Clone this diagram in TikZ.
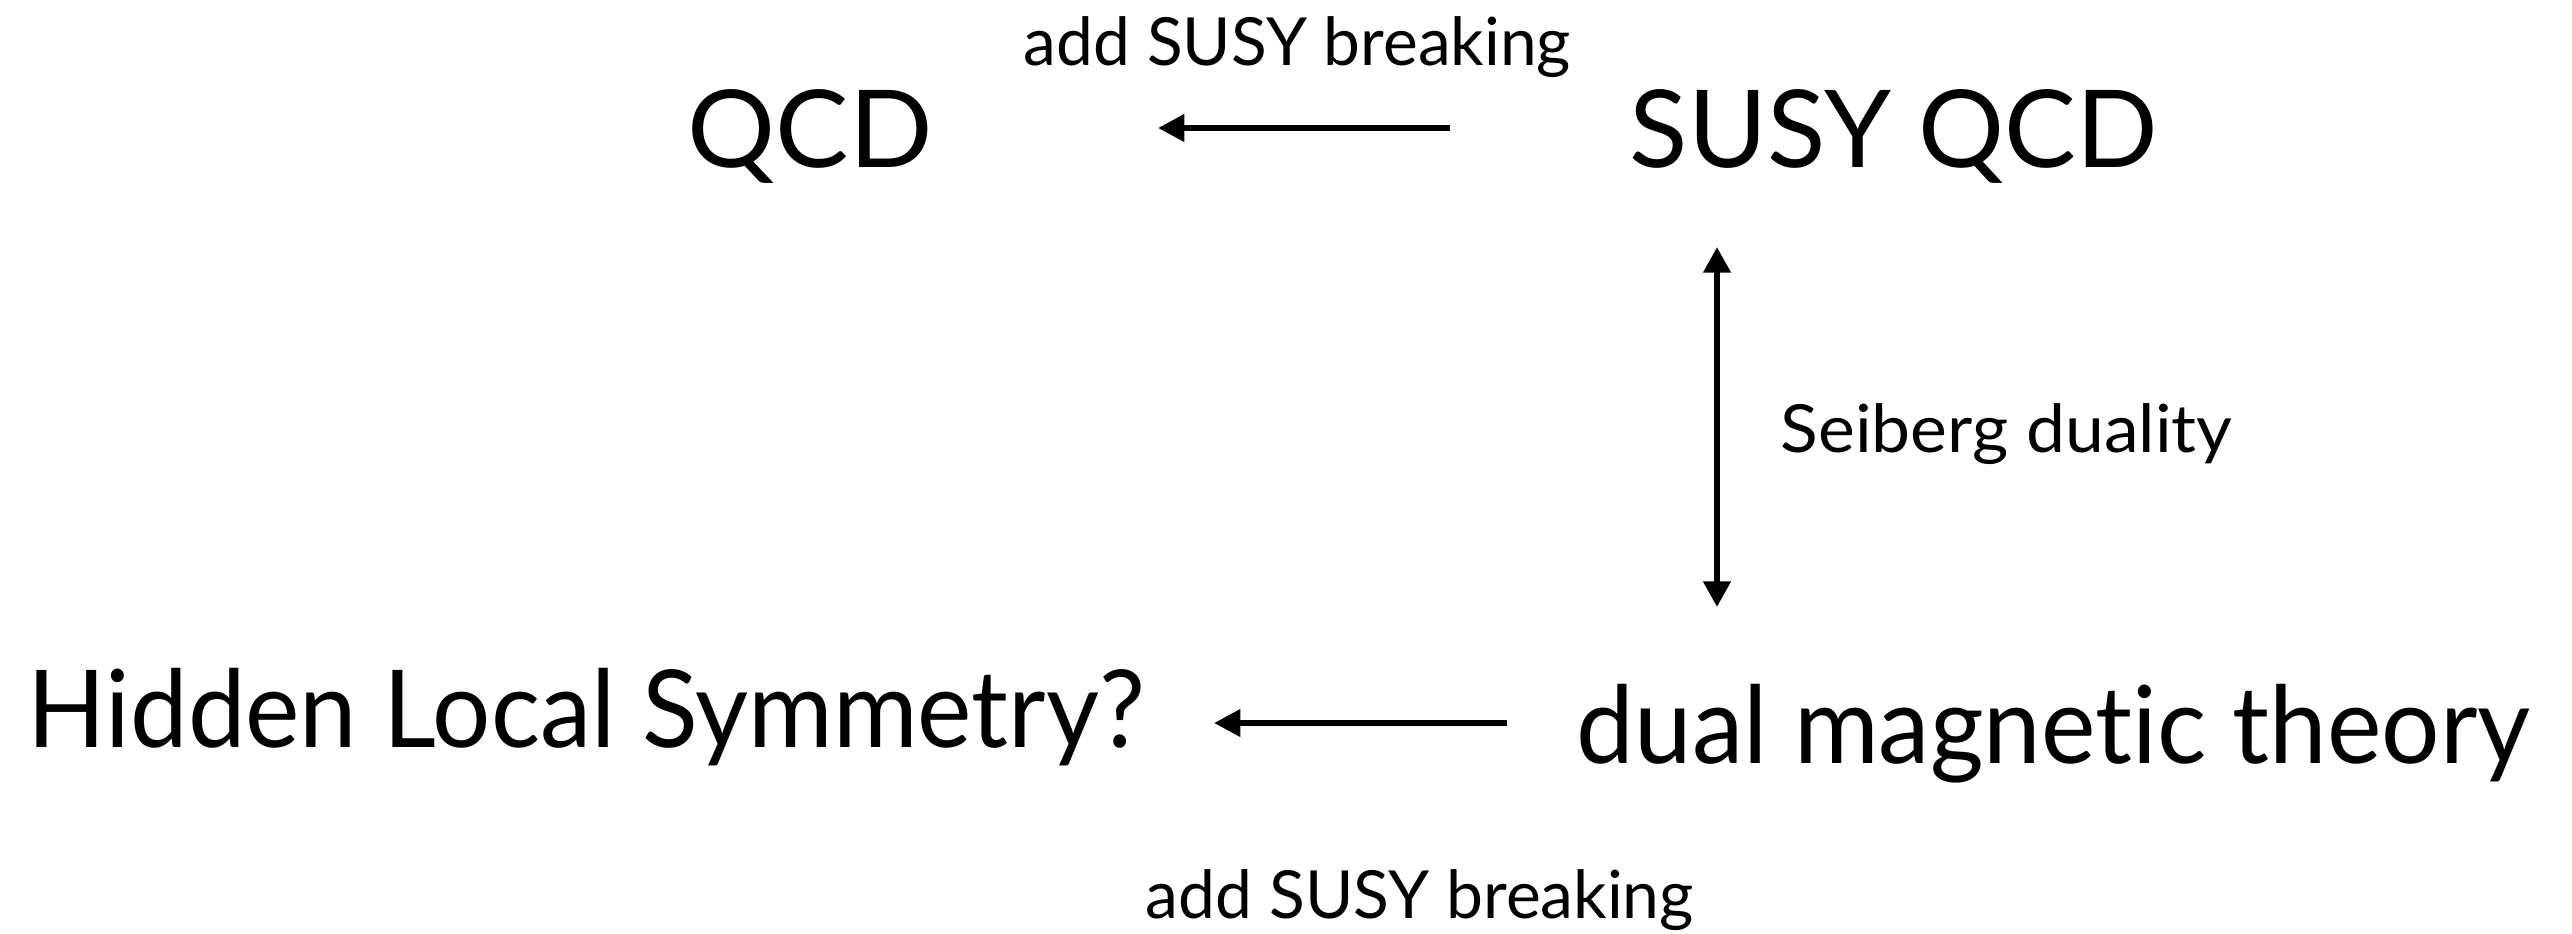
\documentclass[tikz,border=0pt]{standalone}
\usepackage{fontspec}
\setmainfont{Lato}[Ligatures=NoCommon]
\usepackage{graphicx}
\usetikzlibrary{arrows.meta}

% set a text to a given width, keeping its height
\newcommand{\fitw}[2]{\resizebox{#1}{\height}{#2}}

\tikzset{
  big/.style={inner sep=0pt, anchor=base west, font=\fontsize{26.9pt}{30pt}\selectfont},
  small/.style={inner sep=0pt, anchor=base west, font=\fontsize{16.6pt}{20pt}\selectfont},
  arr/.style={line width=1.5pt, -{Triangle[length=6.6pt,width=6.6pt]}},
  dblarr/.style={line width=1.5pt, {Triangle[length=6.4pt,width=6.6pt]}-{Triangle[length=6.4pt,width=6.6pt]}}
}

\begin{document}
\begin{tikzpicture}[x=0.25pt, y=-0.25pt]
\useasboundingbox (0,0) rectangle (2572,933);

% theories
\node[big]   (qcd)    at (687,167)  {\fitw{61.25pt}{QCD}};
\node[big]   (susy)   at (1629,167) {\fitw{132pt}{SUSY QCD}};
\node[big]   (hls)    at (27,747)   {\fitw{279.25pt}{Hidden Local Symmetry?}};
\node[big]   (dual)   at (1576,763) {\fitw{238.5pt}{dual magnetic theory}};

% labels of the maps
\node[small] (brkTop) at (1023,65)  {\fitw{136.75pt}{add SUSY breaking}};
\node[small] (seib)   at (1780,452) {\fitw{113pt}{Seiberg duality}};
\node[small] (brkBot) at (1145,918) {\fitw{137pt}{add SUSY breaking}};

% arrow ends
\coordinate (topFrom) at (1450,128);
\coordinate (topTo)   at (1158,128);
\coordinate (vUp)     at (1717,247);
\coordinate (vDown)   at (1717,607);
\coordinate (botFrom) at (1507,723);
\coordinate (botTo)   at (1214,723);

\draw[arr] (topFrom) -- (topTo);
\draw[dblarr] (vUp) -- (vDown);
\draw[arr] (botFrom) -- (botTo);
\end{tikzpicture}
\end{document}
